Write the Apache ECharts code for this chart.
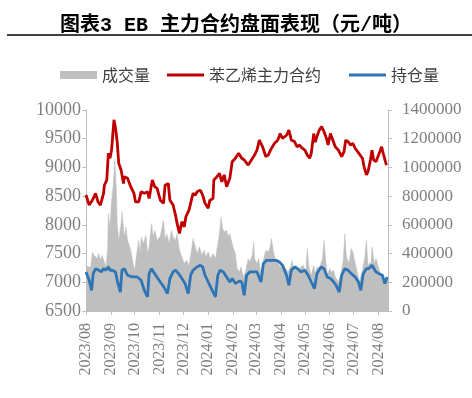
<!DOCTYPE html>
<html>
<head>
<meta charset="utf-8">
<title>EB 主力合约盘面表现</title>
<script src="https://cdn.jsdelivr.net/npm/echarts@6/dist/echarts.min.js"></script>
<style>
  html, body { margin: 0; padding: 0; background: #fff; }
  #chart { width: 472px; height: 398px; }
</style>
</head>
<body>
<div id="chart"></div>
<script>
// 苯乙烯主力合约 (元/吨)
var priceDates = [
  '2023-08-01','2023-08-05','2023-08-09','2023-08-13','2023-08-16','2023-08-19','2023-08-23','2023-08-24','2023-08-27','2023-08-29','2023-08-31',
  '2023-09-02','2023-09-05','2023-09-07','2023-09-09','2023-09-11','2023-09-14','2023-09-17','2023-09-18','2023-09-22','2023-09-26','2023-09-30',
  '2023-10-02','2023-10-06','2023-10-09','2023-10-13','2023-10-17','2023-10-19','2023-10-23','2023-10-26','2023-10-29',
  '2023-11-02','2023-11-06','2023-11-08','2023-11-12','2023-11-14','2023-11-18','2023-11-21','2023-11-23','2023-11-26','2023-11-29',
  '2023-12-02','2023-12-04','2023-12-08','2023-12-13','2023-12-16','2023-12-18','2023-12-22','2023-12-25','2023-12-28',
  '2024-01-01','2024-01-03','2024-01-07','2024-01-08','2024-01-12','2024-01-15','2024-01-18','2024-01-21','2024-01-24','2024-01-28','2024-01-31',
  '2024-02-04','2024-02-08','2024-02-09','2024-02-12','2024-02-15','2024-02-20','2024-02-24','2024-02-28',
  '2024-03-02','2024-03-05','2024-03-09','2024-03-13','2024-03-16','2024-03-20','2024-03-24','2024-03-28','2024-03-31',
  '2024-04-03','2024-04-08','2024-04-11','2024-04-14','2024-04-18','2024-04-21','2024-04-24','2024-04-28',
  '2024-05-01','2024-05-04','2024-05-07','2024-05-09','2024-05-12','2024-05-14','2024-05-16','2024-05-19','2024-05-22','2024-05-25','2024-05-28','2024-05-30',
  '2024-06-02','2024-06-05','2024-06-08','2024-06-12','2024-06-16','2024-06-19','2024-06-21','2024-06-24','2024-06-27','2024-06-30',
  '2024-07-03','2024-07-06','2024-07-08','2024-07-12','2024-07-14','2024-07-17','2024-07-19','2024-07-22','2024-07-24','2024-07-26','2024-07-29',
  '2024-08-02','2024-08-05','2024-08-07','2024-08-09','2024-08-11'
]
var priceValues = [
  8520,8345,8430,8550,8400,8345,8550,8690,8780,9250,9160,
  9300,9830,9680,9450,9070,8950,8720,8840,8810,8665,8550,
  8400,8400,8575,8550,8575,8460,8780,8665,8635,
  8430,8375,8690,8720,8430,8345,8170,8025,7850,8055,
  7965,8140,8260,8550,8520,8575,8605,8520,8375,
  8290,8430,8460,8780,8840,8895,8750,8870,8665,8810,9100,
  9160,9245,9275,9160,9130,9040,9130,9215,
  9300,9475,9360,9190,9215,9330,9420,9475,9590,
  9505,9560,9650,9475,9450,9360,9390,9330,
  9300,9215,9160,9250,9590,9440,9535,9650,9710,9620,9505,9390,
  9590,9475,9360,9300,9190,9275,9475,9450,9390,9420,
  9330,9275,9245,9160,9015,8870,8925,9130,9300,9130,9100,
  9245,9360,9245,9215,9040
]

// 持仓量
var oiDates = [
  '2023-08-01','2023-08-05','2023-08-08','2023-08-10','2023-08-13','2023-08-17','2023-08-20','2023-08-23','2023-08-26','2023-08-29','2023-08-31',
  '2023-09-03','2023-09-07','2023-09-09','2023-09-13','2023-09-15','2023-09-18','2023-09-22','2023-09-28',
  '2023-10-04','2023-10-09','2023-10-13','2023-10-17','2023-10-19','2023-10-22','2023-10-26','2023-10-30',
  '2023-11-02','2023-11-06','2023-11-11','2023-11-14','2023-11-18','2023-11-21','2023-11-25','2023-11-29',
  '2023-12-03','2023-12-07','2023-12-10','2023-12-13','2023-12-18','2023-12-22','2023-12-25','2023-12-28',
  '2024-01-01','2024-01-05','2024-01-10','2024-01-13','2024-01-16','2024-01-20','2024-01-24','2024-01-28','2024-01-31',
  '2024-02-04','2024-02-09','2024-02-12','2024-02-15','2024-02-18','2024-02-22','2024-02-26',
  '2024-03-02','2024-03-04','2024-03-07','2024-03-10','2024-03-14','2024-03-18','2024-03-22','2024-03-26','2024-03-30',
  '2024-04-03','2024-04-08','2024-04-11','2024-04-14','2024-04-18','2024-04-22','2024-04-26',
  '2024-05-01','2024-05-05','2024-05-09','2024-05-13','2024-05-16','2024-05-21','2024-05-25','2024-05-29',
  '2024-06-02','2024-06-06','2024-06-09','2024-06-13','2024-06-16','2024-06-20','2024-06-24','2024-06-28',
  '2024-07-03','2024-07-07','2024-07-10','2024-07-13','2024-07-17','2024-07-20','2024-07-24','2024-07-29',
  '2024-08-02','2024-08-06','2024-08-09','2024-08-12'
]
var oiValues = [
  272000,214000,144000,260000,295000,284000,272000,295000,284000,307000,284000,
  284000,272000,214000,132000,284000,295000,249000,237000,
  237000,214000,144000,98000,260000,295000,260000,226000,
  202000,172000,121000,226000,272000,284000,260000,226000,
  191000,121000,249000,284000,307000,318000,307000,249000,
  202000,156000,98000,249000,284000,272000,237000,202000,226000,
  191000,208000,202000,109000,249000,272000,272000,
  272000,284000,202000,330000,353000,353000,353000,353000,342000,
  318000,249000,179000,284000,307000,295000,272000,
  284000,249000,202000,156000,260000,307000,295000,237000,
  226000,202000,179000,132000,249000,295000,284000,260000,
  237000,202000,144000,260000,295000,295000,318000,272000,
  260000,249000,191000,237000
]

// 成交量
var volDates = [
  '2023-08-01','2023-08-03','2023-08-05','2023-08-07','2023-08-09','2023-08-11','2023-08-13','2023-08-15','2023-08-17','2023-08-19','2023-08-21','2023-08-24','2023-08-26','2023-08-28','2023-08-29','2023-08-31',
  '2023-09-02','2023-09-04','2023-09-05','2023-09-06','2023-09-08','2023-09-09','2023-09-11','2023-09-14','2023-09-15','2023-09-18','2023-09-20','2023-09-22','2023-09-26','2023-09-29',
  '2023-10-01','2023-10-04','2023-10-06','2023-10-08','2023-10-09','2023-10-12','2023-10-15','2023-10-17','2023-10-19','2023-10-22','2023-10-24','2023-10-26','2023-10-29',
  '2023-11-02','2023-11-04','2023-11-06','2023-11-08','2023-11-10','2023-11-13','2023-11-16','2023-11-18','2023-11-21','2023-11-23','2023-11-26','2023-11-29',
  '2023-12-02','2023-12-05','2023-12-08','2023-12-11','2023-12-13','2023-12-16','2023-12-18','2023-12-21','2023-12-24','2023-12-27','2023-12-29',
  '2024-01-01','2024-01-04','2024-01-07','2024-01-10','2024-01-13','2024-01-15','2024-01-17','2024-01-19','2024-01-21','2024-01-24','2024-01-26','2024-01-28',
  '2024-02-01','2024-02-04','2024-02-06','2024-02-09','2024-02-11','2024-02-14','2024-02-17','2024-02-20','2024-02-22','2024-02-25','2024-02-27','2024-02-28',
  '2024-03-02','2024-03-04','2024-03-07','2024-03-10','2024-03-13','2024-03-16','2024-03-18','2024-03-20','2024-03-23','2024-03-25','2024-03-28','2024-03-31',
  '2024-04-03','2024-04-07','2024-04-10','2024-04-13','2024-04-15','2024-04-17','2024-04-20','2024-04-23','2024-04-26','2024-04-29',
  '2024-05-02','2024-05-04','2024-05-06','2024-05-09','2024-05-12','2024-05-14','2024-05-16','2024-05-19','2024-05-23','2024-05-25','2024-05-27','2024-05-29',
  '2024-06-01','2024-06-03','2024-06-06','2024-06-08','2024-06-12','2024-06-15','2024-06-18','2024-06-20','2024-06-22','2024-06-25','2024-06-28','2024-06-30',
  '2024-07-03','2024-07-06','2024-07-08','2024-07-12','2024-07-15','2024-07-17','2024-07-19','2024-07-23','2024-07-24','2024-07-27','2024-07-29',
  '2024-08-01','2024-08-04','2024-08-07','2024-08-10','2024-08-13'
]
var volValues = [
  330000,307000,320000,307000,411000,388000,400000,365000,400000,353000,388000,342000,307000,423000,679000,585000,
  772000,864000,958000,1060000,841000,609000,493000,609000,690000,516000,585000,493000,423000,330000,
  284000,423000,493000,400000,516000,470000,528000,400000,446000,609000,516000,562000,493000,
  520000,510000,632000,493000,539000,470000,562000,516000,493000,539000,423000,376000,
  330000,353000,318000,423000,505000,446000,400000,446000,388000,423000,376000,
  411000,365000,400000,365000,470000,539000,655000,574000,551000,562000,516000,539000,
  446000,400000,300000,272000,307000,237000,284000,365000,342000,388000,481000,365000,
  330000,365000,260000,353000,423000,411000,435000,505000,400000,365000,342000,307000,
  330000,295000,272000,307000,353000,284000,318000,284000,307000,318000,
  272000,435000,307000,249000,318000,260000,307000,295000,365000,493000,353000,249000,
  295000,272000,284000,237000,202000,260000,353000,539000,376000,330000,435000,411000,
  330000,260000,202000,284000,376000,493000,318000,342000,446000,330000,365000,
  307000,249000,237000,214000,226000
]

var monthTicks = ['2023-08-01','2023-09-01','2023-10-01','2023-11-01','2023-12-01','2024-01-01',
  '2024-02-01','2024-03-01','2024-04-01','2024-05-01','2024-06-01','2024-07-01','2024-08-01']

function toTime(s) {
  var p = s.split('-')
  return new Date(+p[0], +p[1] - 1, +p[2]).getTime()
}
function pairs(dates, vals) {
  return dates.map(function (d, i) { return [toTime(d), vals[i]] })
}
function plain(v) { return String(v) }

var axisGrey = '#BFBFBF'
var labelGrey = '#7F7F7F'
var serif = "'Liberation Serif', 'Times New Roman', serif"
var legendFont = {
  color: '#404040',
  fontSize: 16,
  fontFamily: "'Noto Sans CJK SC', sans-serif"
}
var tickTimes = monthTicks.map(toTime)

var echart = echarts.init(document.getElementById('chart'))
var option = {
  backgroundColor: '#fff',
  animation: false,
  title: {
    text: '图表3 EB 主力合约盘面表现（元/吨）',
    left: 'center',
    top: 11,
    textStyle: {
      color: '#000',
      fontSize: 20,
      fontWeight: 'bold',
      fontFamily: "'Liberation Mono', 'Noto Sans CJK SC', monospace"
    }
  },
  graphic: [{
    type: 'line',
    shape: { x1: 7, y1: 35, x2: 472, y2: 35 },
    style: { stroke: '#000', lineWidth: 1.5 }
  }],
  // 两个图例: 灰色方块 + 细线
  legend: [{
    left: 55,
    top: 62,
    itemWidth: 37,
    itemHeight: 8,
    icon: 'rect',
    data: ['成交量'],
    textStyle: legendFont
  }, {
    left: 162,
    top: 62,
    itemWidth: 37,
    itemHeight: 3,
    itemGap: 28,
    icon: 'rect',
    data: ['苯乙烯主力合约', '持仓量'],
    textStyle: legendFont
  }],
  grid: {
    left: 86,
    right: 84,
    top: 110,
    bottom: 87,
    containLabel: false
  },
  xAxis: [{
    // 日期用时间戳, 月初刻度
    type: 'value',
    min: toTime('2023-08-01'),
    max: toTime('2024-08-13'),
    axisLine: { show: true, lineStyle: { color: axisGrey, width: 1 } },
    axisTick: {
      show: true,
      length: 4,
      customValues: tickTimes,
      lineStyle: { color: axisGrey }
    },
    splitLine: { show: false },
    axisLabel: {
      rotate: 90,
      margin: 12,
      color: labelGrey,
      fontSize: 16,
      fontFamily: serif,
      customValues: tickTimes,
      formatter: function (v) {
        var d = new Date(v)
        var m = d.getMonth() + 1
        return d.getFullYear() + '/' + (m < 10 ? '0' + m : m)
      }
    }
  }],
  yAxis: [{
    type: 'value',
    min: 6500,
    max: 10000,
    interval: 500,
    position: 'left',
    axisLine: { show: true, lineStyle: { color: axisGrey } },
    axisTick: { show: true, length: 4, lineStyle: { color: axisGrey } },
    splitLine: { show: false },
    axisLabel: { color: labelGrey, fontSize: 18, fontFamily: serif, margin: 5, formatter: plain }
  }, {
    type: 'value',
    min: 0,
    max: 1400000,
    interval: 200000,
    position: 'right',
    axisLine: { show: true, lineStyle: { color: axisGrey } },
    axisTick: { show: true, length: 4, lineStyle: { color: axisGrey } },
    splitLine: { show: false },
    axisLabel: { color: labelGrey, fontSize: 17, fontFamily: serif, margin: 14, formatter: plain }
  }],
  series: [{
    name: '成交量',
    type: 'line',
    yAxisIndex: 1,
    symbol: 'none',
    color: '#BFBFBF',
    lineStyle: { width: 0.5, color: '#BFBFBF' },
    areaStyle: { color: '#BFBFBF', opacity: 1 },
    z: 1,
    data: pairs(volDates, volValues)
  }, {
    name: '苯乙烯主力合约',
    type: 'line',
    yAxisIndex: 0,
    symbol: 'none',
    color: '#C00000',
    lineStyle: { width: 2.8, color: '#C00000' },
    z: 3,
    data: pairs(priceDates, priceValues)
  }, {
    name: '持仓量',
    type: 'line',
    yAxisIndex: 1,
    symbol: 'none',
    color: '#2E75B6',
    lineStyle: { width: 2.8, color: '#2E75B6' },
    z: 4,
    data: pairs(oiDates, oiValues)
  }]
}
echart.setOption(option)
</script>
</body>
</html>
